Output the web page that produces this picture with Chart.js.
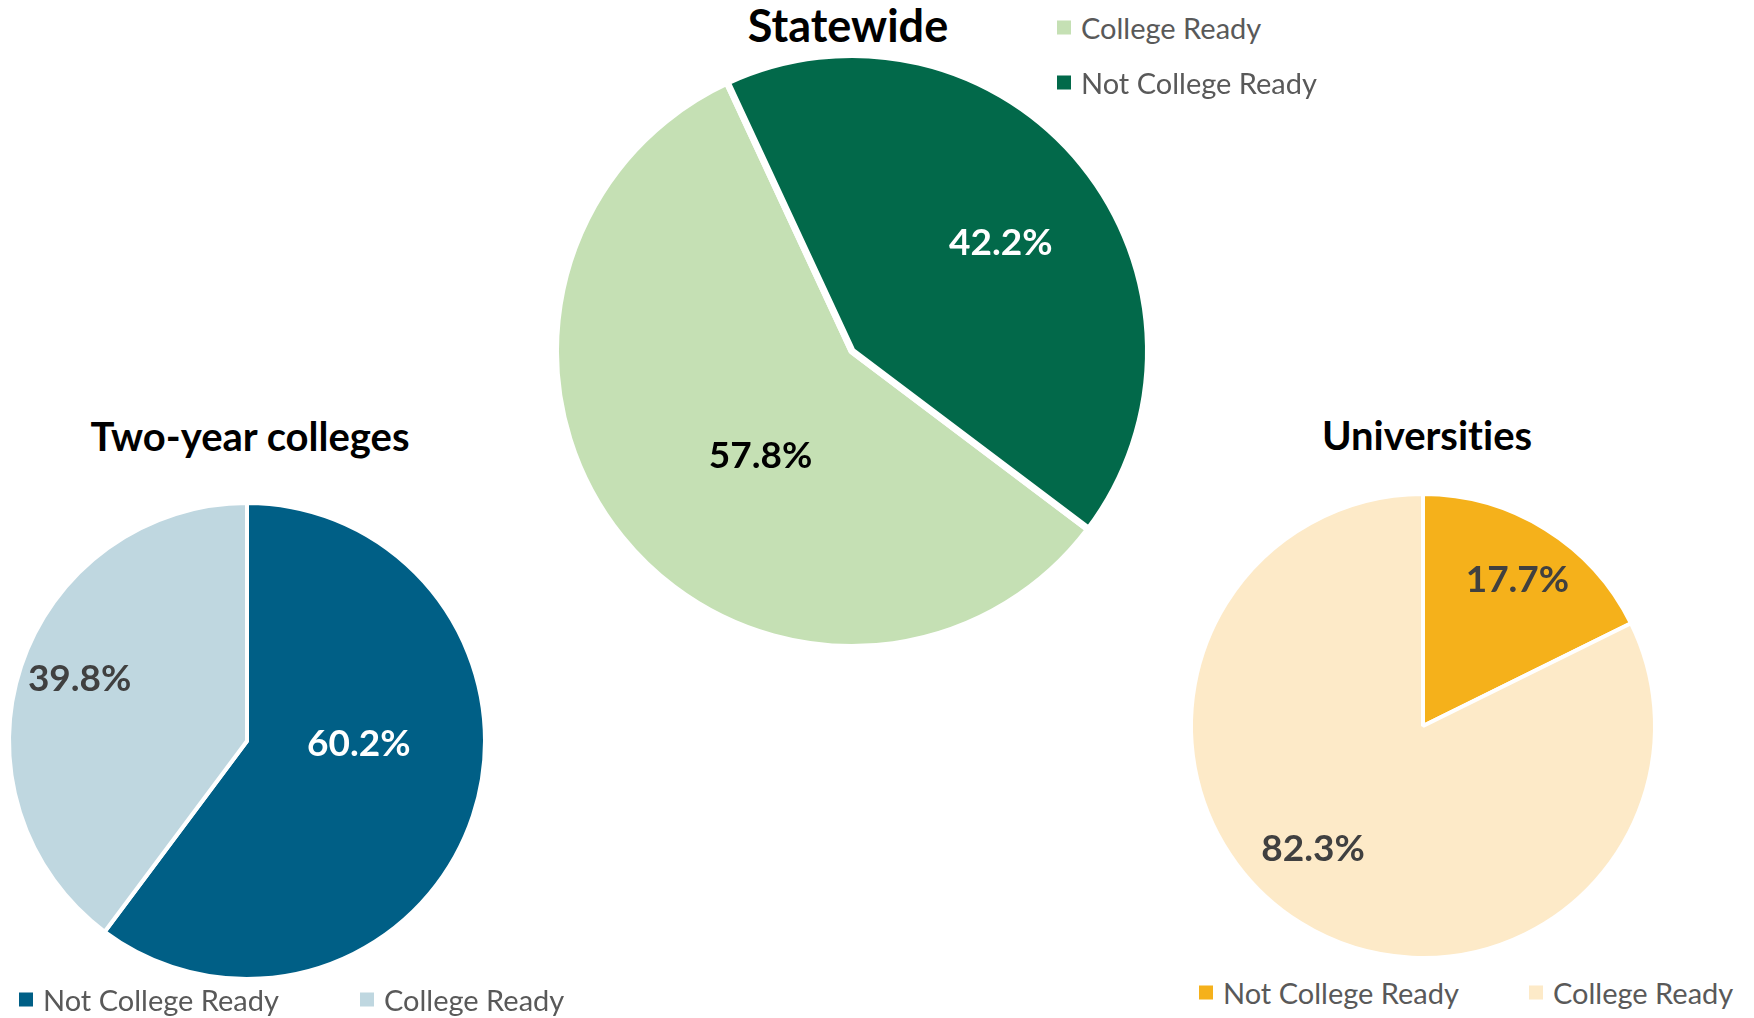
<!DOCTYPE html>
<html>
<head>
<meta charset="utf-8">
<script src="https://cdn.jsdelivr.net/npm/chart.js@4.4.0/dist/chart.umd.min.js"></script>
<style>
  html, body { margin: 0; padding: 0; background: #fff; }
  body { width: 1754px; height: 1018px; position: relative; overflow: hidden; font-family: Lato, "Open Sans", sans-serif; font-variant-ligatures: none; }
  .pie { position: absolute; }
  .title { position: absolute; transform: translate(-50%, -50%); font-weight: bold; font-size: 41px; color: #000; white-space: nowrap; }
  .legend { position: absolute; font-size: 29px; color: #595959; white-space: nowrap; }
  .item { position: absolute; transform: translateY(-50%); display: flex; align-items: center; }
  .item i { display: inline-block; width: 14px; height: 14px; margin-right: 10px; }
</style>
</head>
<body>

<div class="title" style="left:848px; top:25px; font-size:45px;">Statewide</div>
<div class="title" style="left:250px; top:436px; font-size:40px;">Two-year colleges</div>
<div class="title" style="left:1427px; top:435px; font-size:40px;">Universities</div>

<div class="pie" id="boxState"><canvas id="stateChart"></canvas></div>
<div class="pie" id="boxTwo"><canvas id="twoChart"></canvas></div>
<div class="pie" id="boxUni"><canvas id="uniChart"></canvas></div>

<div id="legState" class="legend"></div>
<div id="legTwo" class="legend"></div>
<div id="legUni" class="legend"></div>

<script>
// Statewide
const stateLabels = ['College Ready', 'Not College Ready'];
const stateValues = [57.8, 42.2];
const stateColors = ['#C5E0B4', '#02694A'];

// Two-year colleges
const twoLabels = ['Not College Ready', 'College Ready'];
const twoValues = [60.2, 39.8];
const twoColors = ['#005F86', '#BFD7E0'];

// Universities
const uniLabels = ['Not College Ready', 'College Ready'];
const uniValues = [17.7, 82.3];
const uniColors = ['#F5B11B', '#FDEAC8'];

// draws the percent inside each slice
const sliceLabels = {
    id: 'sliceLabels',
    afterDatasetsDraw(chart, args, opts) {
        const ctx = chart.ctx;
        const values = chart.data.datasets[0].data;
        chart.getDatasetMeta(0).data.forEach((arc, i) => {
            const p = arc.getProps(['x', 'y', 'startAngle', 'endAngle', 'outerRadius'], true);
            const mid = (p.startAngle + p.endAngle) / 2 + opts.shift[i] * Math.PI / 180;
            const d = p.outerRadius * opts.dist[i];
            ctx.save();
            ctx.font = 'bold 37px Lato, "Open Sans", sans-serif';
            ctx.fillStyle = opts.colors[i];
            ctx.textAlign = 'center';
            ctx.textBaseline = 'middle';
            ctx.fillText(values[i].toFixed(1) + '%', p.x + Math.cos(mid) * d, p.y + Math.sin(mid) * d);
            ctx.restore();
        });
    }
};

function makePie(boxId, canvasId, labels, values, colors, opts) {
    const size = (opts.radius + 12) * 2;
    const box = document.getElementById(boxId);
    box.style.left = (opts.cx - size / 2) + 'px';
    box.style.top = (opts.cy - size / 2) + 'px';
    box.style.width = size + 'px';
    box.style.height = size + 'px';

    new Chart(document.getElementById(canvasId), {
        type: 'pie',
        data: {
            labels: labels,
            datasets: [{
                data: values,
                backgroundColor: colors,
                borderColor: '#ffffff',
                borderWidth: opts.border
            }]
        },
        options: {
            responsive: true,
            maintainAspectRatio: false,
            animation: false,
            events: [],
            rotation: opts.rotation,
            radius: opts.radius + opts.border / 2,
            layout: { padding: 0 },
            plugins: {
                legend: { display: false },
                tooltip: { enabled: false },
                title: { display: false },
                sliceLabels: opts.labels
            }
        },
        plugins: [sliceLabels]
    });
}

function makeLegend(id, labels, colors, spots) {
    const el = document.getElementById(id);
    labels.forEach((label, i) => {
        const item = document.createElement('div');
        item.className = 'item';
        item.style.left = spots[i][0] + 'px';
        item.style.top = spots[i][1] + 'px';
        item.innerHTML = '<i style="background:' + colors[i] + '"></i>' + label;
        el.appendChild(item);
    });
}

makePie('boxState', 'stateChart', stateLabels, stateValues, stateColors, {
    cx: 852, cy: 351, radius: 293, border: 7, rotation: 127,
    labels: { dist: [0.47, 0.62], shift: [-10, 3], colors: ['#000000', '#ffffff'] }
});
makePie('boxTwo', 'twoChart', twoLabels, twoValues, twoColors, {
    cx: 247, cy: 741, radius: 236, border: 4, rotation: 0,
    labels: { dist: [0.47, 0.75], shift: [-17, 2], colors: ['#ffffff', '#404040'] }
});
makePie('boxUni', 'uniChart', uniLabels, uniValues, uniColors, {
    cx: 1423, cy: 726, radius: 230, border: 4, rotation: 0,
    labels: { dist: [0.75, 0.71], shift: [1, 10], colors: ['#404040', '#404040'] }
});

makeLegend('legState', stateLabels, stateColors, [[1057, 27], [1057, 82]]);
makeLegend('legTwo', twoLabels, twoColors, [[19, 999], [360, 999]]);
makeLegend('legUni', uniLabels, uniColors, [[1199, 992], [1529, 992]]);
</script>
</body>
</html>
